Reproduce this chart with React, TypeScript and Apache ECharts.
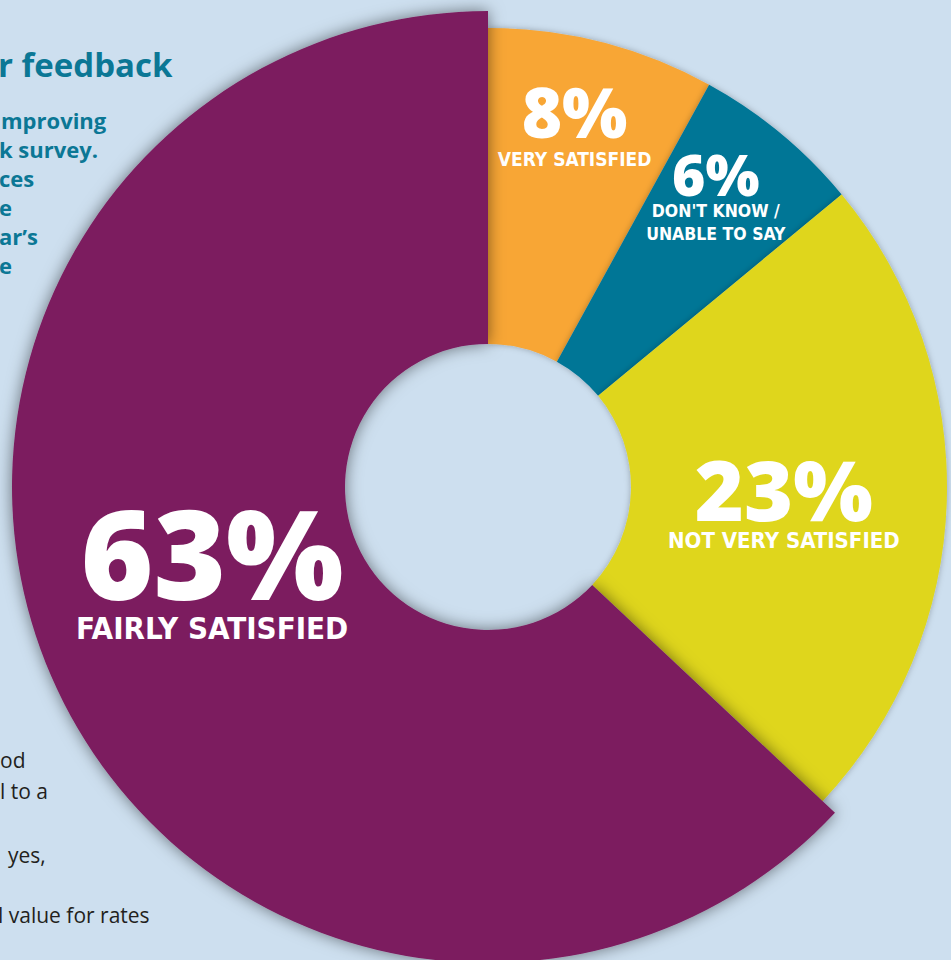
import React, { useEffect, useRef } from "react";
import * as echarts from "echarts";

// ---- data ----
const categories = ["VERY SATISFIED", "DON'T KNOW /\nUNABLE TO SAY", "NOT VERY SATISFIED", "FAIRLY SATISFIED"];
const values = [8, 6, 23, 63];
const titleFragments = ["r feedback"];
const introFragments = ["mproving", "k survey.", "ces", "e", "ar\u2019s", "e"];
const bodyFragments = ["od", "l to a", "yes,", "l value for rates"];

// ---- styles ----
const colors = ["#f8a635", "#007696", "#dfd61e", "#7b1f5e"];
const BG = "#cddfef";
const TEAL_TEXT = "#0b7795";
const pSize = [69, 57, 84, 124];
const pLine = [77, 52, 78, 120];
const tSize = [19, 17.5, 22, 31];
const tLine = [20, 23, 26, 34];
const labelShift = [
  [11, -72],
  [34, -56],
  [-8, 5],
  [11, -43],
];
const CENTER = [488, 487];
const INNER = 143;
const OUTER = 459;
const OUTER_BIG = 476;
const BIG_INDEX = 3;

const WIDE = '"Open Sans", "Noto Sans", sans-serif';
const NARROW = '"DejaVu Sans Condensed", "Liberation Sans Narrow", sans-serif';

function buildRich() {
  const rich: Record<string, any> = {};
  values.forEach((_, i) => {
    rich["p" + i] = {
      fontFamily: WIDE,
      fontWeight: 800,
      fontSize: pSize[i],
      lineHeight: pLine[i],
      color: "#ffffff",
      align: "center",
    };
    rich["t" + i] = {
      fontFamily: NARROW,
      fontWeight: "bold",
      fontSize: tSize[i],
      lineHeight: tLine[i],
      color: "#ffffff",
      align: "center",
    };
  });
  return rich;
}

function labelFormatter(p: any) {
  const i = p.dataIndex;
  const lines = String(p.name)
    .split("\n")
    .map((l: string) => `{t${i}|${l}}`)
    .join("\n");
  return `{p${i}|${p.value}%}\n${lines}`;
}

function makeData(visible: (i: number) => boolean, blur: number, shadow: string) {
  return values.map((v, i) => ({
    value: v,
    name: categories[i],
    itemStyle: visible(i)
      ? { color: colors[i], shadowBlur: blur, shadowColor: shadow }
      : { color: "rgba(0,0,0,0)", shadowBlur: 0 },
    label: { show: visible(i) },
  }));
}

export default function App() {
  const ref = useRef<HTMLDivElement>(null);

  useEffect(() => {
    document.body.style.margin = "0";
    if (!ref.current) return;
    const chart = echarts.init(ref.current, undefined, { renderer: "svg" });
    const rich = buildRich();

    const graphics: any[] = [];
    titleFragments.forEach((t) => {
      graphics.push({
        type: "text",
        x: -2,
        y: 64,
        z: -10,
        silent: true,
        style: { text: t, font: `bold 33px ${WIDE}`, fill: TEAL_TEXT, verticalAlign: "middle", align: "left" },
      });
    });
    introFragments.forEach((t, k) => {
      graphics.push({
        type: "text",
        x: k === 0 ? 1 : -1,
        y: 120 + k * 29,
        z: -10,
        silent: true,
        style: { text: t, font: `bold 22px ${WIDE}`, fill: TEAL_TEXT, verticalAlign: "middle", align: "left" },
      });
    });
    const bodyY = [760, 791, 855, 915];
    const bodyX = [0, 0, 8, -2];
    bodyFragments.forEach((t, k) => {
      graphics.push({
        type: "text",
        x: bodyX[k],
        y: bodyY[k],
        z: -10,
        silent: true,
        style: { text: t, font: `21px ${WIDE}`, fill: "#231f20", verticalAlign: "middle", align: "left" },
      });
    });

    const commonLabel = {
      position: "inside",
      formatter: labelFormatter,
      rich,
      color: "#ffffff",
    };

    chart.setOption({
      animation: false,
      backgroundColor: BG,
      graphic: graphics,
      series: [
        {
          type: "pie",
          z: 2,
          silent: true,
          center: CENTER,
          radius: [INNER, OUTER],
          startAngle: 90,
          clockwise: true,
          emphasis: { disabled: true },
          labelLine: { show: false },
          label: commonLabel,
          labelLayout: (p: any) => ({ dx: labelShift[p.dataIndex][0], dy: labelShift[p.dataIndex][1] }),
          data: makeData((i) => i !== BIG_INDEX, 6, "rgba(0,0,0,0.28)"),
        },
        {
          type: "pie",
          z: 3,
          silent: true,
          center: CENTER,
          radius: [INNER, OUTER_BIG],
          startAngle: 90,
          clockwise: true,
          emphasis: { disabled: true },
          labelLine: { show: false },
          label: commonLabel,
          labelLayout: (p: any) => ({ dx: labelShift[p.dataIndex][0], dy: labelShift[p.dataIndex][1] }),
          data: makeData((i) => i === BIG_INDEX, 16, "rgba(0,0,0,0.5)"),
        },
      ],
    });

    return () => {
      chart.dispose();
    };
  }, []);

  return <div ref={ref} style={{ width: 951, height: 960 }} />;
}
